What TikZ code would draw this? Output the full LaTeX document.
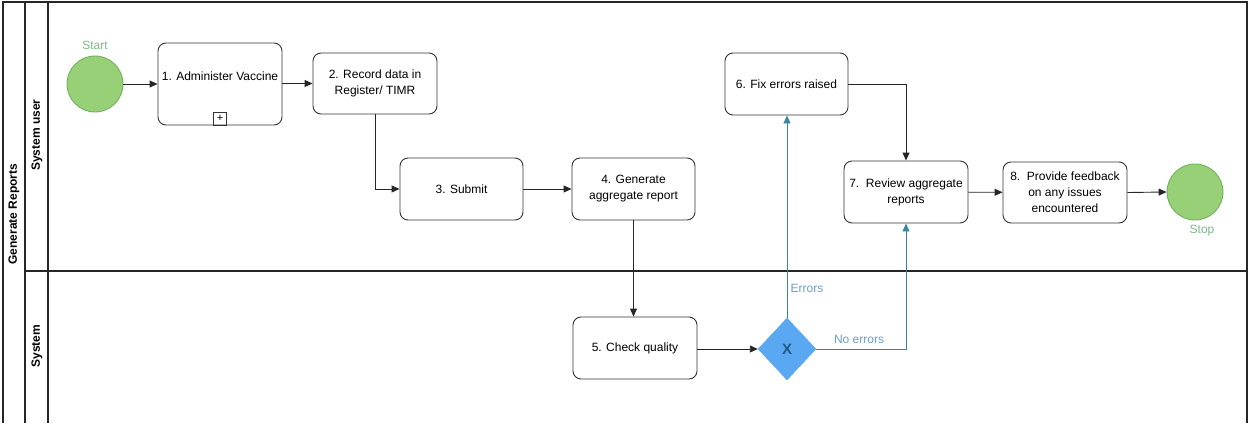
\documentclass[tikz,border=0pt]{standalone}
\usepackage{fontspec}
\setmainfont{Liberation Sans}
\usetikzlibrary{arrows.meta,shapes.geometric}
\definecolor{gfill}{HTML}{97D077}
\definecolor{gstroke}{HTML}{6FB35A}
\definecolor{glabel}{HTML}{7DB88A}
\definecolor{gwfill}{HTML}{5AA8F2}
\definecolor{gwx}{HTML}{1D5B86}
\definecolor{tealline}{HTML}{3A86A0}
\definecolor{tlabel}{HTML}{6A9FC8}
\begin{document}
\begin{tikzpicture}[x=1pt,y=-1pt,
  font=\fontsize{12}{16}\selectfont,
  task/.style={draw=black!80, line width=0.9pt, rounded corners=8pt, align=center, inner sep=0pt,
               minimum width=124pt, minimum height=62pt},
  event/.style={circle, draw=gstroke, line width=0.9pt, fill=gfill, minimum size=56pt, inner sep=0pt},
  evlabel/.style={text=glabel},
  flow/.style={-{Triangle[length=8pt,width=7pt]}, line width=0.9pt, draw=black!85},
  tflow/.style={-{Triangle[length=8pt,width=7pt]}, line width=0.9pt, draw=tealline},
  tlab/.style={text=tlabel},
  frame/.style={line width=1.1pt, draw=black!85},
  lanehead/.style={rotate=90, font=\fontsize{12}{14}\selectfont\bfseries}]
\useasboundingbox (0,0) rectangle (1249,423);
% frame
\draw[frame] (3,423) -- (3,2) -- (1247,2) -- (1247,423);
\draw[frame] (25,2) -- (25,423);
\draw[frame] (48,2) -- (48,423);
\draw[frame] (25,271) -- (1247,271);
\node[lanehead] (pool) at (14,214) {Generate Reports};
\node[lanehead] (lane1) at (37,135) {System user};
\node[lanehead] (lane2) at (37,346) {System};
% events
\node[event] (start) at (95,84) {};
\node[evlabel, anchor=south] (startlbl) at (95,53) {Start};
\node[event] (stop) at (1195,192) {};
\node[evlabel, anchor=north] (stoplbl) at (1202,222) {Stop};
% tasks
\node[task, minimum height=82pt] (n1) at (220,84) {};
\node (n1txt) at (220,76) {1. Administer Vaccine};
\node[draw=black!80, line width=0.7pt, minimum size=13pt, inner sep=0pt, font=\fontsize{11}{11}\selectfont] (plus) at (220,118.5) {+};
\node[task, minimum height=61pt] (n2) at (375,83.5) {2. Record data in\\Register/ TIMR};
\node[task, minimum width=123pt] (n3) at (461.5,189) {3. Submit};
\node[task, minimum width=123pt] (n4) at (633.5,189) {4. Generate\\aggregate report};
\node[task] (n5) at (635,348) {5. Check quality};
\node[task, minimum width=123pt] (n6) at (786.5,84) {6. Fix errors raised};
\node[task] (n7) at (906,192) {7.\ \ Review aggregate\\reports};
\node[task, minimum height=61pt] (n8) at (1065,192.5) {8.\ \ Provide feedback\\on any issues\\encountered};
% gateway
\node[diamond, fill=gwfill, draw=gwfill, minimum width=58pt, minimum height=62pt, inner sep=0pt,
      text=gwx, font=\fontsize{15}{15}\selectfont\bfseries] (gw) at (787,349) {X};
% flows
\draw[flow] (start) -- (n1);
\draw[flow] (n1.east |- n2.west) -- (n2.west);
\draw[flow] (n2.south) |- (n3.west);
\draw[flow] (n3) -- (n4);
\draw[flow] (n4.south) -- (n4.south |- n5.north);
\draw[flow] (n5.east |- gw.west) -- (gw.west);
\draw[flow] (n6.east) -| (n7.north);
\draw[flow] (n7) -- (n8);
\draw[flow] (n8.east) -- (stop.west);
\draw[tflow] (gw.north) -- (gw.north |- n6.south);
\draw[tflow] (gw.east) -| (n7.south);
\node[tlab] (errlbl) at (807,288) {Errors};
\node[tlab] (noerrlbl) at (859,339) {No errors};
\end{tikzpicture}
\end{document}
